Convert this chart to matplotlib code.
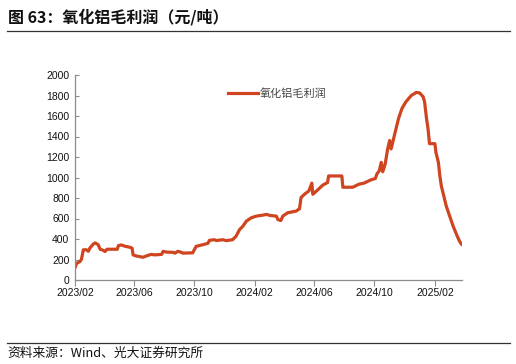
import matplotlib
matplotlib.use("Agg")
import matplotlib.pyplot as plt
import pandas as pd

dates = [
    "2023-02-02", "2023-02-04", "2023-02-11", "2023-02-14", "2023-02-18", "2023-02-24", "2023-02-28",
    "2023-03-03", "2023-03-10", "2023-03-14", "2023-03-20", "2023-03-24", "2023-03-30", "2023-04-03",
    "2023-04-07", "2023-04-28", "2023-04-30", "2023-05-06", "2023-05-13", "2023-05-23", "2023-05-28",
    "2023-05-30", "2023-06-05", "2023-06-19", "2023-06-29", "2023-07-06", "2023-07-13", "2023-07-27",
    "2023-07-30", "2023-08-06", "2023-08-19", "2023-08-23", "2023-08-29", "2023-09-05", "2023-09-08",
    "2023-09-28", "2023-10-05", "2023-10-19", "2023-10-29", "2023-11-01", "2023-11-11", "2023-11-15",
    "2023-11-28", "2023-12-05", "2023-12-18", "2023-12-25", "2024-01-01", "2024-01-08", "2024-01-15",
    "2024-01-25", "2024-02-04", "2024-02-18", "2024-02-25", "2024-03-03", "2024-03-16", "2024-03-19",
    "2024-03-25", "2024-03-29", "2024-04-08", "2024-04-25", "2024-05-02", "2024-05-05", "2024-05-12",
    "2024-05-21", "2024-05-27", "2024-05-29", "2024-06-08", "2024-06-18", "2024-06-28", "2024-06-30",
    "2024-07-27", "2024-07-29", "2024-08-18", "2024-08-31", "2024-09-10", "2024-09-24", "2024-10-03",
    "2024-10-06", "2024-10-11", "2024-10-15", "2024-10-18", "2024-10-23", "2024-10-28", "2024-11-01",
    "2024-11-04", "2024-11-09", "2024-11-14", "2024-11-19", "2024-11-26", "2024-12-04", "2024-12-15",
    "2024-12-25", "2025-01-01", "2025-01-08", "2025-01-11", "2025-01-15", "2025-01-18", "2025-01-21",
    "2025-02-01", "2025-02-03", "2025-02-08", "2025-02-11", "2025-02-14", "2025-02-19", "2025-02-24",
    "2025-03-03", "2025-03-10", "2025-03-17", "2025-03-23", "2025-03-27",
]
profit = [
    131, 160, 180, 200, 295, 295, 280,
    310, 350, 362, 345, 300, 290, 278,
    300, 300, 335, 342, 330, 320, 310,
    245, 235, 222, 240, 250, 245, 250,
    280, 272, 270, 262, 280, 270, 262,
    265, 328, 345, 358, 387, 393, 385,
    393, 384, 393, 426, 490, 525, 574,
    607, 623, 633, 640, 630, 623, 590,
    580, 623, 656, 672, 695, 804, 836,
    869, 945, 836, 879, 925, 951, 1015,
    1015, 905, 905, 935, 945, 977, 990,
    1033, 1066, 1148, 1056, 1132, 1279, 1361,
    1279, 1377, 1476, 1574, 1673, 1738, 1800,
    1830, 1825, 1788, 1738, 1574, 1476, 1330,
    1330, 1246, 1148, 1017, 918, 820, 722,
    623, 525, 443, 377, 350,
]
xtick_labels = ["2023/02", "2023/06", "2023/10", "2024/02", "2024/06", "2024/10", "2025/02"]
yticks = [0, 200, 400, 600, 800, 1000, 1200, 1400, 1600, 1800, 2000]
series_name = "氧化铝毛利润"
title = "图 63：氧化铝毛利润（元/吨）"
source = "资料来源：Wind、光大证券研究所"

CJK = ["Noto Sans CJK SC", "DejaVu Sans"]
NUM = ["Liberation Sans", "DejaVu Sans"]

W, H = 516, 364
fig = plt.figure(figsize=(W / 100, H / 100), dpi=100)

ax = fig.add_axes([75 / W, 1 - 280 / H, (462 - 75) / W, (280 - 75) / H])
x = pd.to_datetime(dates)
ax.plot(x, profit, color="#CF4520", lw=2.3, label=series_name, solid_joinstyle="round")

ax.set_ylim(0, 2000)
ax.set_yticks(yticks)
ax.set_xlim(pd.Timestamp("2023-02-01"), pd.Timestamp("2025-03-28"))
xt = pd.to_datetime([s.replace("/", "-") + "-01" for s in xtick_labels])
ax.set_xticks(xt)
ax.set_xticklabels(xtick_labels)

for s in ["top", "right"]:
    ax.spines[s].set_visible(False)
for s in ["left", "bottom"]:
    ax.spines[s].set_color("#8c8c8c")
    ax.spines[s].set_linewidth(0.9)
ax.tick_params(axis="y", direction="in", length=3, color="#8c8c8c", labelsize=7.5, pad=4)
ax.tick_params(axis="x", direction="out", length=4, color="#8c8c8c", labelsize=7.5, pad=2)
for lab in ax.get_xticklabels() + ax.get_yticklabels():
    lab.set_family(NUM)
    lab.set_color("#111111")

leg = ax.legend(loc="upper left", bbox_to_anchor=(0.37, 0.985), frameon=False,
                handlelength=2.7, handletextpad=0.15,
                prop={"family": CJK, "size": 8})
for t in leg.get_texts():
    t.set_color("#444444")

fig.text(8 / W, 1 - 17 / H, title, family=CJK, fontsize=11.5, fontweight="bold",
         va="center", ha="left", color="#111111")
fig.add_artist(plt.Line2D([7 / W, 510 / W], [1 - 31 / H, 1 - 31 / H], color="#333333", lw=0.9))
fig.add_artist(plt.Line2D([7 / W, 510 / W], [1 - 343 / H, 1 - 343 / H], color="#333333", lw=0.9))
fig.text(7 / W, 1 - 353 / H, source, family=CJK, fontsize=9.2, va="center", ha="left", color="#111111")

fig.savefig("out.png", dpi=100)
